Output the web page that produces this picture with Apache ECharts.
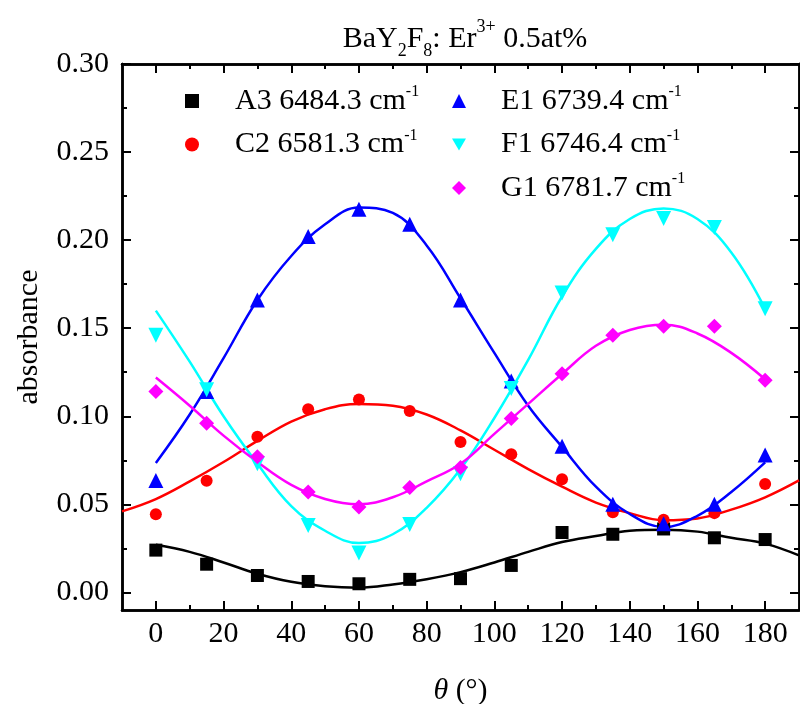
<!DOCTYPE html>
<html>
<head>
<meta charset="utf-8">
<script src="https://cdn.jsdelivr.net/npm/echarts@6/dist/echarts.min.js"></script>
<style>
  html, body { margin: 0; padding: 0; background: #fff; }
  #chart { width: 800px; height: 704px; }
</style>
</head>
<body>
<div id="chart"></div>
<script>
// Measured polarisation angles (degrees)
const angles = [0, 15, 30, 45, 60, 75, 90, 105, 120, 135, 150, 165, 180];

// Measured absorbance per transition
const absA3 = [0.024, 0.016, 0.0096, 0.0062, 0.0049, 0.0074, 0.0078, 0.0153, 0.034, 0.033, 0.036, 0.031, 0.030];
const absC2 = [0.0443, 0.0634, 0.0883, 0.104, 0.1095, 0.103, 0.0854, 0.0784, 0.0643, 0.0455, 0.0413, 0.045, 0.0615];
const absE1 = [0.0635, 0.114, 0.166, 0.202, 0.2176, 0.209, 0.166, 0.120, 0.083, 0.050, 0.039, 0.050, 0.078];
const absF1 = [0.146, 0.115, 0.073, 0.038, 0.0223, 0.0386, 0.0674, 0.1157, 0.170, 0.203, 0.2123, 0.2072, 0.161];
const absG1 = [0.114, 0.096, 0.077, 0.057, 0.0485, 0.0595, 0.0709, 0.0987, 0.1242, 0.146, 0.1511, 0.1511, 0.1205];

// Fitted curves, sampled every 10 degrees
const fitAnglesA3 = [0, 10, 20, 30, 40, 50, 60, 70, 80, 90, 100, 110, 120, 130, 140, 150, 160, 170, 180, 190];
const fitA3 = [0.027, 0.023, 0.017, 0.0106, 0.006, 0.0035, 0.0027, 0.0045, 0.0075, 0.0115, 0.017, 0.023, 0.0286, 0.032, 0.035, 0.0356, 0.0345, 0.031, 0.0277, 0.021];

const fitAnglesC2 = [-10, 0, 10, 20, 30, 40, 50, 60, 70, 80, 90, 100, 110, 120, 130, 140, 150, 160, 170, 180, 190];
const fitC2 = [0.046, 0.053, 0.063, 0.074, 0.086, 0.097, 0.104, 0.107, 0.106, 0.101, 0.092, 0.081, 0.070, 0.060, 0.051, 0.045, 0.041, 0.042, 0.047, 0.054, 0.0636];

const fitAngles = [0, 10, 20, 30, 40, 50, 60, 70, 80, 90, 100, 110, 120, 130, 140, 150, 160, 170, 180];
const fitE1 = [0.0735, 0.101, 0.133, 0.166, 0.191, 0.209, 0.2185, 0.2155, 0.197, 0.167, 0.136, 0.106, 0.0826, 0.060, 0.0445, 0.0371, 0.0435, 0.057, 0.0738];
const fitF1 = [0.160, 0.131, 0.100, 0.073, 0.049, 0.035, 0.028, 0.033, 0.048, 0.070, 0.099, 0.132, 0.168, 0.195, 0.212, 0.218, 0.212, 0.193, 0.161];
const fitG1 = [0.122, 0.106, 0.089, 0.074, 0.061, 0.053, 0.050, 0.054, 0.063, 0.073, 0.090, 0.107, 0.124, 0.140, 0.149, 0.152, 0.147, 0.136, 0.121];

// Axis ticks
const xTicks = [0, 20, 40, 60, 80, 100, 120, 140, 160, 180];
const xMinorTicks = [10, 30, 50, 70, 90, 110, 130, 150, 170];
const yTicks = [0, 0.05, 0.10, 0.15, 0.20, 0.25, 0.30];
const yMinorTicks = [0.025, 0.075, 0.125, 0.175, 0.225, 0.275];

const FONT = "'Liberation Serif', 'Times New Roman', serif";
const FS = 30;
const pair = (xs, ys) => xs.map((x, i) => [x, ys[i]]);

// Downward-pointing triangle for the legend entry of F1
const DOWN_TRIANGLE = 'path://M0,0L14,0L7,12Z';

const transitions = [
  { name: 'A3 6484.3', color: '#000000', symbol: 'rect', size: 13, rot: 0, pts: absA3, fx: fitAnglesA3, fy: fitA3 },
  { name: 'C2 6581.3', color: '#ff0000', symbol: 'circle', size: 12, rot: 0, pts: absC2, fx: fitAnglesC2, fy: fitC2 },
  { name: 'E1 6739.4', color: '#0000ff', symbol: 'triangle', size: 15, rot: 0, pts: absE1, fx: fitAngles, fy: fitE1 },
  { name: 'F1 6746.4', color: '#00ffff', symbol: 'triangle', size: 15, rot: 180, pts: absF1, fx: fitAngles, fy: fitF1 },
  { name: 'G1 6781.7', color: '#ff00ff', symbol: 'diamond', size: 15, rot: 0, pts: absG1, fx: fitAngles, fy: fitG1 }
];

function xAxisDef(position, ticks, len, withLabels) {
  return {
    type: 'value', position: position, min: -10, max: 190,
    axisLine: { show: true, onZero: false, lineStyle: { color: '#000', width: 2.5 } },
    axisTick: { show: true, inside: true, length: len, customValues: ticks, lineStyle: { color: '#000', width: 2 } },
    axisLabel: { show: withLabels, customValues: ticks, margin: 9, color: '#000', fontFamily: FONT, fontSize: FS },
    splitLine: { show: false }
  };
}
function yAxisDef(position, ticks, len, withLabels) {
  return {
    type: 'value', position: position, min: -0.01, max: 0.30,
    axisLine: { show: true, onZero: false, lineStyle: { color: '#000', width: 2.5 } },
    axisTick: { show: true, inside: true, length: len, customValues: ticks, lineStyle: { color: '#000', width: 2 } },
    axisLabel: { show: withLabels, customValues: ticks, margin: 13, color: '#000', fontFamily: FONT, fontSize: FS,
      formatter: v => v.toFixed(2) },
    splitLine: { show: false }
  };
}

const xMain = xAxisDef('bottom', xTicks, 9, true);
xMain.name = '{i|θ}{n| (°)}';
xMain.nameLocation = 'middle';
xMain.nameGap = 66;
xMain.nameTextStyle = {
  rich: {
    i: { fontFamily: FONT, fontSize: FS, fontStyle: 'italic', color: '#000' },
    n: { fontFamily: FONT, fontSize: FS, color: '#000' }
  }
};

const yMain = yAxisDef('left', yTicks, 9, true);
yMain.name = 'absorbance';
yMain.nameLocation = 'middle';
yMain.nameGap = 78;
yMain.nameTextStyle = { fontFamily: FONT, fontSize: FS, color: '#000' };

function legendDef(left, textPad, names) {
  return {
    orient: 'vertical', left: left, top: 79,
    itemWidth: 14, itemHeight: 14, itemGap: 11.5,
    data: names.map(n => n.startsWith('F1') ? { name: n, icon: DOWN_TRIANGLE } : n),
    formatter: n => '{t|' + n + ' cm}{s|-1}',
    textStyle: {
      rich: {
        t: { fontFamily: FONT, fontSize: FS, color: '#000', lineHeight: 34, padding: [0, 0, 0, textPad] },
        s: { fontFamily: FONT, fontSize: 16, color: '#000', lineHeight: 16, verticalAlign: 'top' }
      }
    },
    selectedMode: false
  };
}

const series = [];
transitions.forEach(t => {
  series.push({
    name: t.name + ' fit', type: 'line', data: pair(t.fx, t.fy),
    smooth: 0.4, showSymbol: false, silent: true, z: 2,
    lineStyle: { color: t.color, width: 2.5 }
  });
});
transitions.forEach(t => {
  series.push({
    name: t.name, type: 'scatter', data: pair(angles, t.pts),
    symbol: t.symbol, symbolSize: t.size, symbolRotate: t.rot, z: 3,
    itemStyle: { color: t.color, opacity: 1 }
  });
});

const chart = echarts.init(document.getElementById('chart'), null, { renderer: 'canvas' });
chart.setOption({
  animation: false,
  backgroundColor: '#fff',
  title: {
    text: '{n|BaY}{sub|2}{n|F}{sub|8}{n|: Er}{sup|3+}{n| 0.5at%}',
    left: 460, top: 13, textAlign: 'center',
    textStyle: {
      fontWeight: 'normal',
      rich: {
        n: { fontFamily: FONT, fontSize: FS, fontWeight: 'normal', color: '#000', lineHeight: 42 },
        sub: { fontFamily: FONT, fontSize: 18, fontWeight: 'normal', color: '#000', lineHeight: 18, verticalAlign: 'bottom' },
        sup: { fontFamily: FONT, fontSize: 18, fontWeight: 'normal', color: '#000', lineHeight: 18, verticalAlign: 'top' }
      }
    }
  },
  legend: [
    legendDef(180, 31, ['A3 6484.3', 'C2 6581.3']),
    legendDef(447, 30, ['E1 6739.4', 'F1 6746.4', 'G1 6781.7'])
  ],
  grid: { left: 122, right: 1, top: 64, bottom: 94, containLabel: false, outerBoundsMode: 'none' },
  xAxis: [
    xMain,
    xAxisDef('bottom', xMinorTicks, 5, false),
    xAxisDef('top', xTicks, 9, false),
    xAxisDef('top', xMinorTicks, 5, false)
  ],
  yAxis: [
    yMain,
    yAxisDef('left', yMinorTicks, 5, false),
    yAxisDef('right', yTicks, 9, false),
    yAxisDef('right', yMinorTicks, 5, false)
  ],
  series: series
});
</script>
</body>
</html>
